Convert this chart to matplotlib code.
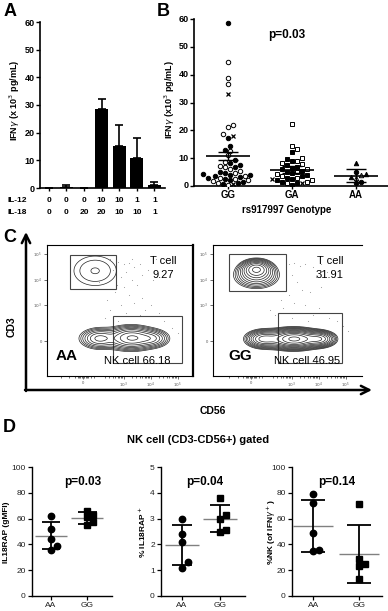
import numpy as np
import matplotlib.pyplot as plt
from matplotlib.patches import Rectangle

plt.rcParams['font.family'] = ['Liberation Sans', 'DejaVu Sans']

W, H = 388, 611

# ---------------- data ----------------
# A: IFNg under IL-12 / IL-18 stimulation
a_il12 = ['0', '0', '0', '10', '10', '1', '1']
a_il18 = ['0', '0', '20', '20', '10', '10', '1']
a_mean = [0, 0.5, 0, 28.5, 15.3, 10.8, 1.0]
a_err = [0, 0.6, 0, 3.8, 7.5, 7.2, 1.0]

# B: IFNg by rs917997 genotype
b_groups = ['GG', 'GA', 'AA']
gg_filled = [58.5, 17.3, 14.4, 13.0, 9.5, 8.2, 7.5, 7.0, 5.0, 4.5, 4.2, 4.0, 3.8,
             3.5, 3.2, 3.0, 2.5, 2.2, 1.5, 1.0, 0.8]
gg_open = [44.4, 38.9, 36.6, 21.8, 21.2, 18.8, 12.6, 11.0, 8.8, 7.2, 6.8, 6.0, 5.5,
           4.8, 3.6, 3.0, 2.6, 2.0, 1.8, 1.2, 0.5]
gg_cross = [33.0, 17.9, 0.6]
ga_filled = [12.2, 9.8, 9.0, 7.5, 7.0, 6.5, 6.0, 5.5, 5.2, 4.5, 4.0, 3.5, 3.0, 2.5,
             2.0, 1.5, 1.0, 0.5]
ga_open = [22.2, 14.3, 13.3, 10.0, 9.0, 8.2, 7.8, 6.2, 5.0, 4.2, 3.6, 3.0, 2.2, 1.5, 1.0]
ga_cross = [2.5, 1.2]
aa_filled_tri = [8.2, 4.4, 3.2]
aa_open_tri = [3.8, 2.8]
aa_dots = [5.0, 1.6, 1.0]
b_err = [1.5, 1.3, 2.2]

# C: flow gates (display units), population blobs (cx, cy, sx, sy, weight)
c_left_t_gate = (-0.48, 2.04, 1.22, 3.37)
c_left_nk_gate = (1.11, -0.86, 3.67, 0.98)
c_right_t_gate = (-0.81, 1.96, 1.30, 3.41)
c_right_nk_gate = (1.00, -0.86, 3.37, 1.10)
c_left_t_blobs = [(0.45, 2.75, 0.38, 0.28, 1.0)]
c_left_nk_blobs = [(0.6, 0.1, 0.33, 0.19, 0.5), (1.8, 0.12, 0.4, 0.21, 1.0),
                   (2.55, 0.1, 0.3, 0.17, 0.45), (1.5, 0.1, 0.85, 0.27, 0.12)]
c_right_t_blobs = [(0.2, 2.85, 0.32, 0.2, 1.0), (0.2, 2.55, 0.5, 0.3, 0.7)]
c_right_nk_blobs = [(0.45, 0.08, 0.33, 0.18, 0.45), (1.6, 0.08, 0.45, 0.19, 1.0),
                    (2.55, 0.08, 0.3, 0.16, 0.5), (1.4, 0.08, 0.85, 0.26, 0.12)]
c_left_dots = [(1.3, 3.1), (1.5, 3.0), (1.7, 3.05), (1.9, 2.9), (2.1, 3.0), (2.4, 2.8),
               (1.6, 2.7), (1.4, 2.5), (1.8, 2.4), (2.0, 2.2), (1.5, 2.1), (1.2, 1.9),
               (1.7, 1.8), (2.2, 1.7), (1.9, 1.5), (1.4, 1.4), (2.5, 1.4), (1.0, 1.2),
               (1.6, 1.1), (2.1, 1.0), (2.8, 1.1), (0.8, 0.9), (1.3, 0.8), (3.0, 0.8),
               (3.3, 0.5), (0.6, 2.3), (1.1, 2.8), (2.6, 2.4), (0.9, 1.6), (2.3, 1.2),
               (3.5, 0.3), (1.0, 3.2), (2.7, 3.2), (1.8, 3.2), (2.2, 2.6), (1.25, 2.2)]
c_right_dots = [(1.4, 3.0), (1.6, 3.05), (1.8, 2.95), (2.0, 3.0), (2.3, 2.9), (2.6, 3.0),
                (1.5, 2.6), (1.7, 2.3), (1.9, 2.0), (1.4, 1.8), (2.2, 1.9), (1.6, 1.5),
                (2.0, 1.4), (1.2, 1.3), (2.5, 1.3), (1.8, 1.1), (0.9, 1.0), (2.3, 1.0),
                (2.9, 0.9), (3.2, 0.8), (1.1, 1.6), (2.6, 2.1), (1.3, 2.9), (2.8, 2.7),
                (3.4, 0.6), (0.7, 1.2), (2.1, 0.8), (1.5, 0.9), (3.6, 0.4), (2.4, 2.5)]

# D: NK cell (CD3-CD56+) gated
d_groups = ['AA', 'GG']
d1_aa = [62, 52, 44, 39, 36]
d1_gg = [66, 63, 61, 57, 55]
d2_aa = [3.0, 2.4, 2.1, 1.3, 1.1]
d2_gg = [3.8, 3.15, 3.0, 2.55, 2.5]
d3_aa = [79, 72, 49, 36, 35]
d3_gg = [71, 29, 25, 23, 13]

# ---------------- helpers ----------------
fig = plt.figure(figsize=(W / 100, H / 100), dpi=100)


def px_axes(l, t, r, b):
    return fig.add_axes([l / W, 1 - b / H, (r - l) / W, (b - t) / H])


def swarm(vals, ux, uy, d):
    # simple beeswarm: offsets (data units) so markers of diameter d px don't overlap
    vals = np.asarray(vals, float)
    offs = np.zeros(len(vals))
    placed = []
    for i in np.argsort(vals):
        v = vals[i]
        k = 0
        done = False
        while not done:
            cands = [0.0] if k == 0 else [k * d / 2, -k * d / 2]
            for c in cands:
                if all((c - ox) ** 2 + ((v - pv) * uy) ** 2 >= d * d for ox, pv in placed):
                    offs[i] = c / ux
                    placed.append((c, v))
                    done = True
                    break
            k += 1
    return offs


def style_axes(ax, lw=1.2):
    for s in ['top', 'right']:
        ax.spines[s].set_visible(False)
    for s in ['left', 'bottom']:
        ax.spines[s].set_linewidth(lw)


ov = fig.add_axes([0, 0, 1, 1], zorder=10)
ov.set_xlim(0, W)
ov.set_ylim(H, 0)
ov.axis('off')

# ---------------- panel A ----------------
axA = px_axes(40, 22, 165, 188)
xa = np.arange(len(a_mean))
axA.bar(xa, a_mean, width=0.72, color='black',
        yerr=[np.zeros(len(a_err)), a_err], capsize=3,
        error_kw=dict(elinewidth=1.2, capthick=1.2, ecolor='black'))
axA.set_xlim(-0.5, 6.6)
axA.set_ylim(0, 60)
axA.set_yticks(range(0, 61, 10))
axA.set_xticks(xa)
axA.set_xticklabels([])
axA.tick_params(axis='y', labelsize=6.5, length=3, width=1, pad=1)
axA.tick_params(axis='x', length=2, width=1)
for t in axA.get_yticklabels():
    t.set_fontweight('bold')
style_axes(axA)
tr = axA.get_xaxis_transform()
for i in range(len(a_il12)):
    axA.text(i, -0.078, a_il12[i], transform=tr, ha='center', va='center',
             fontsize=6, fontweight='bold')
    axA.text(i, -0.145, a_il18[i], transform=tr, ha='center', va='center',
             fontsize=6, fontweight='bold')
ov.text(7, 201, 'IL-12', fontsize=6, fontweight='bold', va='center')
ov.text(7, 212, 'IL-18', fontsize=6, fontweight='bold', va='center')
ov.text(15, 100, r'IFN$\gamma$ (x 10$^3$ pg/mL)', rotation=90, ha='center', va='center',
        fontsize=6.5, fontweight='bold')
ov.text(4, 12, 'A', fontsize=13, fontweight='bold', va='center')

# ---------------- panel B ----------------
axB = px_axes(194, 19, 388, 186)
axB.set_xlim(-0.53, 2.5)
axB.set_ylim(0, 60)
ux_b, uy_b = 64, 167 / 60
b_sets = [
    [(gg_filled, 'o', 'black'), (gg_open, 'o', 'white'), (gg_cross, 'x', 'black')],
    [(ga_filled, 's', 'black'), (ga_open, 's', 'white'), (ga_cross, 'x', 'black')],
    [(aa_filled_tri, '^', 'black'), (aa_open_tri, '^', 'white'), (aa_dots, 'o', 'black')],
]
for gi, sets in enumerate(b_sets):
    allv = np.concatenate([np.asarray(s[0], float) for s in sets])
    offs = swarm(allv, ux_b, uy_b, 5.0)
    k = 0
    for vals, mk, fc in sets:
        n = len(vals)
        xs = gi + offs[k:k + n]
        if mk == 'x':
            axB.plot(xs, vals, 'x', color='black', ms=3, mew=0.9, ls='none', zorder=3)
        else:
            axB.plot(xs, vals, mk, mfc=fc, mec='black', ms=3.2 if mk != 's' else 3.4,
                     mew=0.7, ls='none', zorder=3)
        k += n
    m = allv.mean()
    e = b_err[gi]
    axB.hlines(m, gi - 0.34, gi + 0.34, color='black', lw=1.2, zorder=4)
    axB.hlines([m - e, m + e], gi - 0.16, gi + 0.16, color='black', lw=1, zorder=4)
    axB.vlines(gi, m - e, m + e, color='black', lw=1, zorder=4)
axB.set_yticks(range(0, 61, 10))
axB.set_yticklabels([])
axB.set_xticks(range(3))
axB.set_xticklabels(b_groups, fontsize=7, fontweight='bold')
axB.tick_params(axis='y', length=3, width=1)
axB.tick_params(axis='x', length=2, width=1, pad=1)
style_axes(axB)
for v in range(0, 61, 10):
    ov.text(189, 186 - v * 167 / 60, str(v), ha='right', va='center', fontsize=6.5,
            fontweight='bold')
ov.text(287, 210, 'rs917997 Genotype', ha='center', va='center', fontsize=7,
        fontweight='bold')
ov.text(170, 100, r'IFN$\gamma$ (x10$^3$ pg/mL)', rotation=90, ha='center', va='center',
        fontsize=6.5, fontweight='bold')
ov.text(287, 35, 'p=0.03', ha='center', va='center', fontsize=8.5, fontweight='bold')
ov.text(157, 12, 'B', fontsize=13, fontweight='bold', va='center')

# ---------------- panel C ----------------
gx = np.linspace(-1.6, 4.3, 320)
gy = np.linspace(-1.5, 3.9, 300)
GX, GY = np.meshgrid(gx, gy)


def density(blobs):
    z = np.zeros_like(GX)
    for cx, cy, sx, sy, w in blobs:
        z += w * np.exp(-0.5 * ((GX - cx) / sx) ** 2 - 0.5 * ((GY - cy) / sy) ** 2)
    return z


minor_x = []
for k in range(2, 5):
    for mm in range(2, 10):
        minor_x.append(1.5 + (k - 3) + np.log10(mm))
minor_x += [-0.2, -0.15, -0.1, -0.05, 0.05, 0.1, 0.15, 0.2, 0.3, 0.4, -0.3, -0.5, -0.8]


def flow_panel(l, r, xlim, t_gate, nk_gate, t_blobs, nk_blobs, t_n, nk_n, dots, right_edge):
    ax = px_axes(l, 245, r, 376)
    ax.set_xlim(*xlim)
    ax.set_ylim(-1.37, 3.76)
    dx, dy = zip(*dots)
    ax.scatter(dx, dy, s=0.6, color='#9a9a9a', linewidths=0)
    zt = density(t_blobs)
    ax.contour(GX, GY, zt, levels=np.geomspace(0.12, 0.92, t_n) * zt.max(),
               colors='#222222', linewidths=0.5)
    zn = density(nk_blobs)
    ax.contour(GX, GY, zn, levels=np.geomspace(0.05, 0.92, nk_n) * zn.max(),
               colors='#222222', linewidths=0.5)
    for g in (t_gate, nk_gate):
        ax.add_patch(Rectangle((g[0], g[1]), g[2] - g[0], g[3] - g[1], fill=False,
                               ec='#444444', lw=0.8))
    ax.set_xticks([0, 1.5, 2.5, 3.5])
    ax.set_xticklabels(['0', '$10^3$', '$10^4$', '$10^5$'], fontsize=3, color='#555555')
    ax.set_xticks(minor_x, minor=True)
    ax.set_yticks([0, 1.4, 2.4, 3.4])
    ax.set_yticklabels(['0', '$10^3$', '$10^4$', '$10^5$'], fontsize=3, color='#555555')
    ax.tick_params(which='both', length=2, width=0.5, pad=1.5, color='#333333')
    ax.tick_params(which='minor', length=1.2)
    for s in ['left', 'top', 'bottom']:
        ax.spines[s].set_linewidth(0.8)
    if right_edge:
        ax.spines['right'].set_linewidth(1.6)
    else:
        ax.spines['right'].set_visible(False)
    return ax


flow_panel(47, 193, (-1.33, 4.07), c_left_t_gate, c_left_nk_gate, c_left_t_blobs,
           c_left_nk_blobs, 3, 9, c_left_dots, True)
flow_panel(213, 362, (-1.41, 4.11), c_right_t_gate, c_right_nk_gate, c_right_t_blobs,
           c_right_nk_blobs, 10, 12, c_right_dots, False)

ov.text(163, 261, 'T cell', ha='center', va='center', fontsize=8)
ov.text(163, 275, '9.27', ha='center', va='center', fontsize=8)
ov.text(330, 261, 'T cell', ha='center', va='center', fontsize=8)
ov.text(330, 275, '31.91', ha='center', va='center', fontsize=8)
ov.text(67, 356, 'AA', ha='center', va='center', fontsize=11, fontweight='bold')
ov.text(137, 361, 'NK cell 66.18', ha='center', va='center', fontsize=8)
ov.text(240, 356, 'GG', ha='center', va='center', fontsize=11, fontweight='bold')
ov.text(307, 361, 'NK cell 46.95', ha='center', va='center', fontsize=8)

ov.annotate('', xy=(26, 232), xytext=(26, 391),
            arrowprops=dict(arrowstyle='->,head_width=0.3,head_length=0.6', lw=1.8,
                            color='black', shrinkA=0, shrinkB=0))
ov.annotate('', xy=(372, 390), xytext=(25, 390),
            arrowprops=dict(arrowstyle='->,head_width=0.3,head_length=0.6', lw=1.8,
                            color='black', shrinkA=0, shrinkB=0))
ov.text(12, 327, 'CD3', rotation=90, ha='center', va='center', fontsize=7.5,
        fontweight='bold')
ov.text(213, 411, 'CD56', ha='center', va='center', fontsize=7.5, fontweight='bold')
ov.text(3, 238, 'C', fontsize=13, fontweight='bold', va='center')

# ---------------- panel D ----------------
d_specs = [
    ((32, 112), (-0.53, 1.69), 36, d1_aa, d1_gg, 100, 20, 'IL18RAP (gMFI)', 7, 'p=0.03', 83),
    ((161, 245), (-0.55, 1.66), 38, d2_aa, d2_gg, 5, 1, r'% IL18RAP$^+$', 142, 'p=0.04', 205),
    ((292, 382), (-0.46, 1.5), 46, d3_aa, d3_gg, 100, 20, r'%NK (of IFN$\gamma^+$)', 271,
     'p=0.14', 337),
]
for (l, r), xl, ux, aa, gg, top, step, ylab, ylx, ptxt, px in d_specs:
    ax = px_axes(l, 467, r, 596)
    ax.set_xlim(*xl)
    ax.set_ylim(0, top)
    uy = 129 / top
    for gi, (vals, mk) in enumerate([(aa, 'o'), (gg, 's')]):
        offs = swarm(vals, ux, uy, 6.2)
        ax.plot(gi + offs, vals, mk, color='black', ms=4.6 if mk == 'o' else 4.4,
                ls='none', zorder=3)
        m = np.mean(vals)
        sd = np.std(vals, ddof=1)
        ax.hlines(m, gi - 0.44, gi + 0.44, color='#808080', lw=1, zorder=2)
        ax.vlines(gi, m - sd, m + sd, color='black', lw=1.3, zorder=4)
        ax.hlines([m - sd, m + sd], gi - 0.26, gi + 0.26, color='black', lw=1.3, zorder=4)
    ax.set_yticks(np.arange(0, top + step / 2, step))
    ax.set_xticks([0, 1])
    ax.set_xticklabels(d_groups)
    ax.tick_params(axis='both', labelsize=6, length=3, width=0.9, pad=1.5,
                   labelcolor='#222222')
    style_axes(ax, lw=1)
    ov.text(ylx, 532, ylab, rotation=90, ha='center', va='center', fontsize=6,
            fontweight='bold')
    ov.text(px, 482, ptxt, ha='center', va='center', fontsize=8.5, fontweight='bold')

ov.text(198, 440, 'NK cell (CD3-CD56+) gated', ha='center', va='center', fontsize=8,
        fontweight='bold')
ov.text(3, 428, 'D', fontsize=13, fontweight='bold', va='center')

fig.savefig('out.png', dpi=100)
